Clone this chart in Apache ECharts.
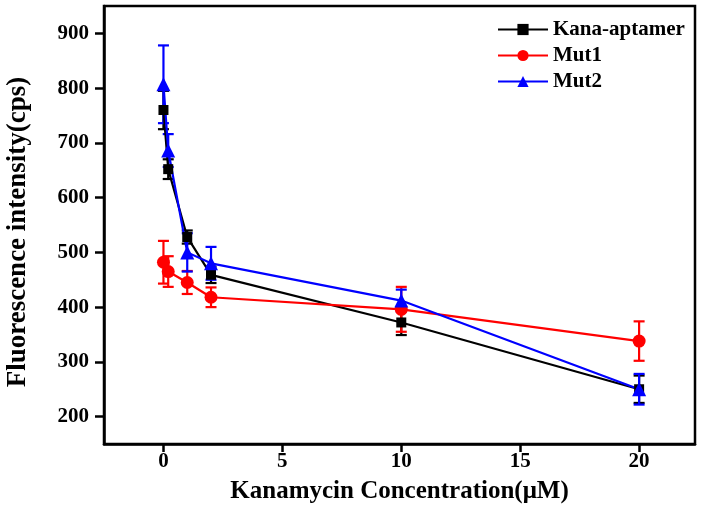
<!DOCTYPE html>
<html>
<head>
<meta charset="utf-8">
<script src="https://cdn.jsdelivr.net/npm/echarts@6/dist/echarts.min.js"></script>
<style>html,body{margin:0;padding:0;background:#fff;}#chart{width:704px;height:511px;}</style>
</head>
<body>
<div id="chart"></div>
<script>
const xValues = [0, 0.2, 1, 2, 10, 20];
const kanaMean = [760, 652, 528, 459, 372, 250];
const kanaErr = [35, 18, 12, 15, 23, 25];
const mut1Mean = [482, 465, 445, 418, 396, 338];
const mut1Err = [39, 28, 21, 18, 41, 36];
const mut2Mean = [807, 686, 500, 480, 412, 250];
const mut2Err = [71, 30, 35, 30, 20, 28];
const seriesNames = ['Kana-aptamer', 'Mut1', 'Mut2'];
const xTicks = [0, 5, 10, 15, 20];
const yTicks = [200, 300, 400, 500, 600, 700, 800, 900];

const FONT = "'Liberation Serif', 'Times New Roman', serif";
const chart = echarts.init(document.getElementById('chart'));

function pts(mean) { return xValues.map((x, i) => [x, mean[i]]); }
function errData(mean, err) { return xValues.map((x, i) => [x, mean[i], err[i]]); }
function errSeries(name, color, mean, err) {
  return {
    type: 'custom', name: name + ' err', z: 3,
    data: errData(mean, err),
    renderItem: function (params, api) {
      const x = api.value(0), m = api.value(1), e = api.value(2);
      const hi = api.coord([x, m + e]);
      const lo = api.coord([x, m - e]);
      const w = 5.5;
      const st = { stroke: color, lineWidth: 2.2 };
      return {
        type: 'group',
        children: [
          { type: 'line', shape: { x1: hi[0], y1: hi[1], x2: lo[0], y2: lo[1] }, style: st },
          { type: 'line', shape: { x1: hi[0] - w, y1: hi[1], x2: hi[0] + w, y2: hi[1] }, style: st },
          { type: 'line', shape: { x1: lo[0] - w, y1: lo[1], x2: lo[0] + w, y2: lo[1] }, style: st }
        ]
      };
    }
  };
}
function lineSeries(name, color, mean, symbol, size) {
  return {
    type: 'line', name: name, z: 4,
    data: pts(mean), symbol: symbol, symbolSize: size,
    lineStyle: { color: color, width: 2.2 },
    itemStyle: { color: color },
    emphasis: { disabled: true }
  };
}

chart.setOption({
  animation: false,
  backgroundColor: '#fff',
  grid: { left: 104, top: 6, right: 9, bottom: 67, containLabel: false, outerBoundsMode: 'none',
          show: true, borderColor: '#000', borderWidth: 2.5 },
  legend: {
    data: seriesNames, orient: 'vertical', left: 492, top: 14, itemWidth: 50, itemHeight: 14, itemGap: 5,
    textStyle: { fontFamily: FONT, fontWeight: 'bold', fontSize: 21, color: '#000' }
  },
  xAxis: {
    type: 'value', min: -2.5, max: 22.35,
    name: 'Kanamycin Concentration(μM)', nameLocation: 'middle', nameGap: 35,
    nameTextStyle: { fontFamily: FONT, fontWeight: 'bold', fontSize: 25, color: '#000' },
    axisLine: { onZero: false, lineStyle: { color: '#000', width: 2.5 } },
    axisTick: { customValues: xTicks, length: 8, lineStyle: { color: '#000', width: 2.5 } },
    axisLabel: { customValues: xTicks, margin: 7, fontFamily: FONT, fontWeight: 'bold', fontSize: 21, color: '#000' },
    splitLine: { show: false }
  },
  yAxis: {
    type: 'value', min: 150, max: 950,
    name: 'Fluorescence intensity(cps)', nameLocation: 'middle', nameGap: 72,
    nameTextStyle: { fontFamily: FONT, fontWeight: 'bold', fontSize: 27, color: '#000', padding: [0, 14, 0, 0] },
    axisLine: { show: true, onZero: false, lineStyle: { color: '#000', width: 2.5 } },
    axisTick: { customValues: yTicks, length: 9, lineStyle: { color: '#000', width: 2.5 } },
    axisLabel: { customValues: yTicks, margin: 15, fontFamily: FONT, fontWeight: 'bold', fontSize: 21, color: '#000' },
    splitLine: { show: false }
  },
  series: [
    lineSeries('Kana-aptamer', '#000000', kanaMean, 'rect', 10),
    lineSeries('Mut1', '#ff0000', mut1Mean, 'circle', 13),
    lineSeries('Mut2', '#0000ff', mut2Mean, 'triangle', 14),
    errSeries('Kana-aptamer', '#000000', kanaMean, kanaErr),
    errSeries('Mut1', '#ff0000', mut1Mean, mut1Err),
    errSeries('Mut2', '#0000ff', mut2Mean, mut2Err)
  ]
});
</script>
</body>
</html>
